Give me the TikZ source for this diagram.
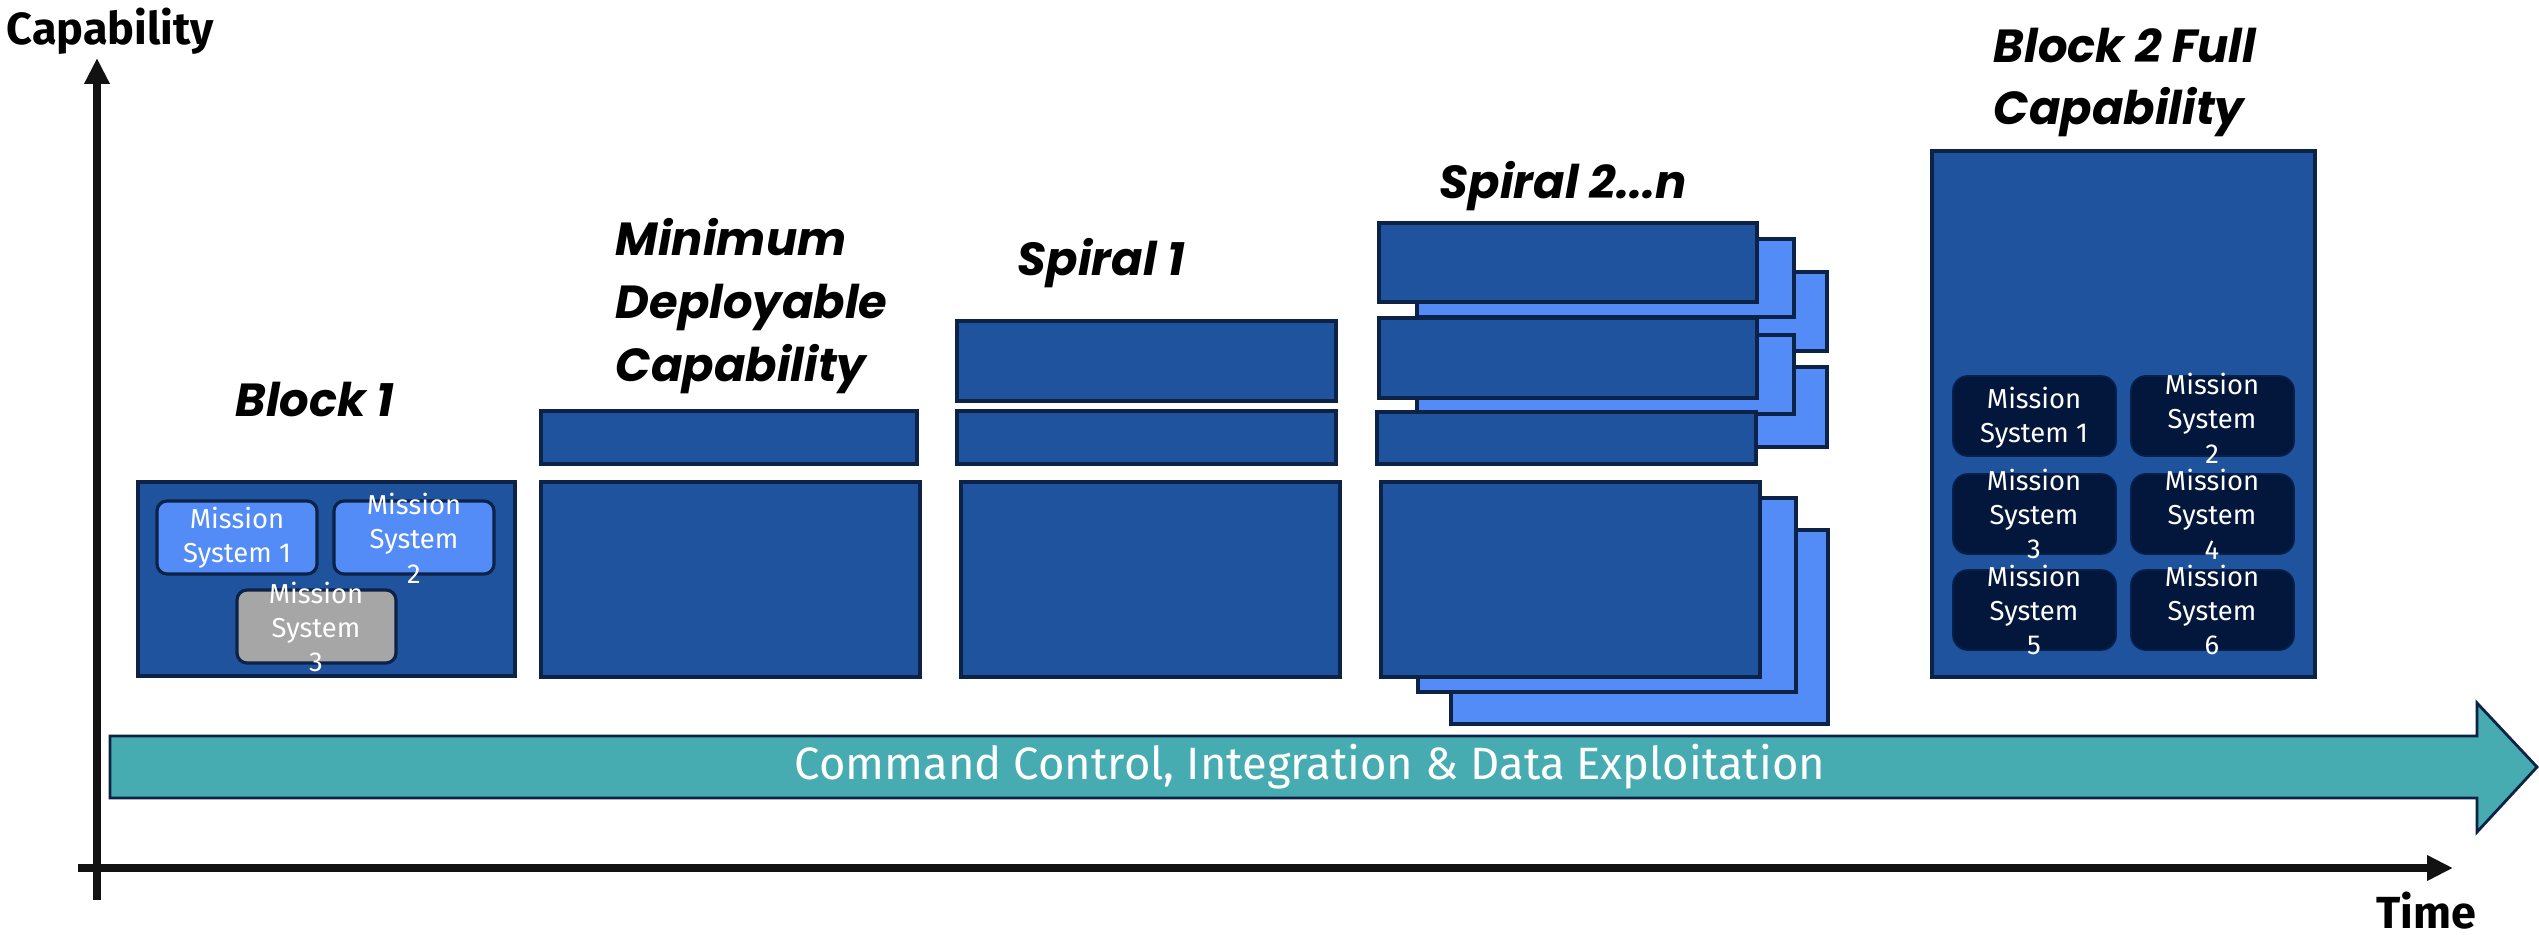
\documentclass[tikz,border=0pt]{standalone}
\usepackage{fontspec}
\setmainfont{Fira Sans}
\newfontfamily\titlefont{Poppins}
\usetikzlibrary{arrows.meta}

\definecolor{boxblue}{RGB}{31,83,158}
\definecolor{liteblue}{RGB}{83,139,247}
\definecolor{edgenavy}{RGB}{12,34,70}
\definecolor{msgray}{RGB}{166,166,166}
\definecolor{msnavy}{RGB}{3,22,60}
\definecolor{cmdteal}{RGB}{71,172,177}

\begin{document}
\begin{tikzpicture}[x=0.1mm,y=-0.1mm,
      blk/.style={draw=edgenavy, line width=0.9pt, fill=boxblue},
      back/.style={draw=edgenavy, line width=0.9pt, fill=liteblue},
      msbox/.style={draw=edgenavy, line width=0.9pt, rounded corners=1mm},
      msdark/.style={draw=msnavy!85!boxblue, line width=0.5pt, fill=msnavy, rounded corners=1.5mm},
      title/.style={font=\titlefont\bfseries\itshape\fontsize{13.2}{17.9}\selectfont,
        anchor=north west, inner sep=0pt, align=left},
      axislabel/.style={font=\bfseries\fontsize{12.8}{15}\selectfont, inner sep=0pt},
      mstext/.style={text=white, align=center, inner sep=0pt,
        font=\fontsize{7.8}{9.8}\selectfont},
      axis/.style={line width=2.2pt, draw=black!93,
        -{Triangle[width=2.4mm,length=2.6mm]}}]
      \useasboundingbox (0,0) rectangle (2539,935);
      % axes
      \coordinate (ybot) at (97,900);
      \coordinate (ytop) at (97,58);
      \coordinate (xleft) at (78,868);
      \coordinate (xright) at (2453,868);
      \draw[axis] (ybot) -- (ytop);
      \draw[axis] (xleft) -- (xright);
      \node[axislabel, anchor=base west] (cap) at (6,45) {Capability};
      \node[axislabel, anchor=base east] (time) at (2477,928) {Time};
      % command and control band
      \draw[fill=cmdteal, draw=edgenavy, line width=0.8pt]
        (110,736) -- (2477,736) -- (2477,703) -- (2537,767)
        -- (2477,832) -- (2477,798) -- (110,798) -- cycle;
      \node[text=white, font=\fontsize{12.9}{16}\selectfont] (cmd) at (1310,767)
        {Command Control, Integration \& Data Exploitation};
      % block 1
      \draw[blk] (138,482) rectangle (515,676);
      \draw[msbox, fill=liteblue] (157,501) rectangle (317,574);
      \node[mstext] (ms1) at (237,538) {Mission\\System 1};
      \draw[msbox, fill=liteblue] (334,501) rectangle (494,574);
      \node[mstext] (ms2) at (414,538) {Mission\\System\\2};
      \draw[msbox, fill=msgray] (237,590) rectangle (396,663);
      \node[mstext] (ms3) at (316,627) {Mission\\System\\3};
      \node[title] (blockone) at (235,381) {Block 1};
      % minimum deployable capability
      \draw[blk] (541,411) rectangle (917,464);
      \draw[blk] (541,482) rectangle (920,677);
      \node[title] (mdc) at (615,218) {Minimum\\Deployable\\Capability};
      % spiral 1
      \draw[blk] (957,321) rectangle (1336,401);
      \draw[blk] (957,411) rectangle (1336,464);
      \draw[blk] (961,482) rectangle (1340,677);
      \node[title] (spiralone) at (1017,238) {Spiral 1};
      % spiral 2...n
      \draw[back] (1449,272) rectangle (1827,351);
      \draw[back] (1417,239) rectangle (1794,317);
      \draw[blk] (1379,223) rectangle (1757,302);
      \draw[back] (1449,367) rectangle (1827,447);
      \draw[back] (1417,335) rectangle (1794,414);
      \draw[blk] (1379,318) rectangle (1757,398);
      \draw[blk] (1377,412) rectangle (1756,464);
      \draw[back] (1451,530) rectangle (1828,724);
      \draw[back] (1418,498) rectangle (1796,692);
      \draw[blk] (1381,482) rectangle (1760,677);
      \node[title] (spiraln) at (1439,161) {Spiral 2...n};
      % block 2
      \draw[blk] (1932,151) rectangle (2315,677);
      \draw[msdark] (1953,376) rectangle (2116,456);
      \node[mstext] (bms1) at (2034,418) {Mission\\System 1};
      \draw[msdark] (2131,376) rectangle (2294,456);
      \node[mstext] (bms2) at (2212,418) {Mission\\System\\2};
      \draw[msdark] (1953,474) rectangle (2116,554);
      \node[mstext] (bms3) at (2034,514) {Mission\\System\\3};
      \draw[msdark] (2131,474) rectangle (2294,554);
      \node[mstext] (bms4) at (2212,514) {Mission\\System\\4};
      \draw[msdark] (1953,570) rectangle (2116,650);
      \node[mstext] (bms5) at (2034,610) {Mission\\System\\5};
      \draw[msdark] (2131,570) rectangle (2294,650);
      \node[mstext] (bms6) at (2212,610) {Mission\\System\\6};
      \node[title] (blocktwo) at (1993,27) {Block 2 Full\\Capability};
    \end{tikzpicture}
\end{document}
